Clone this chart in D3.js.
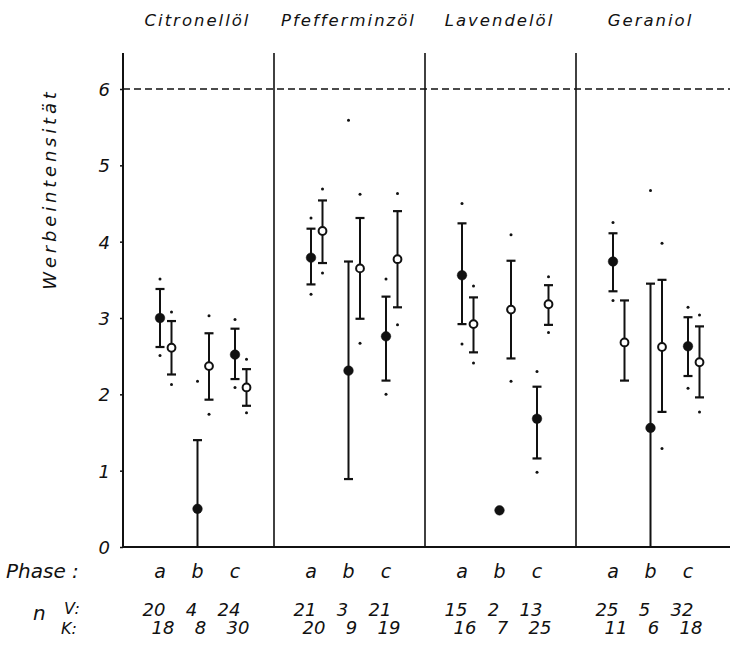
<!DOCTYPE html>
<html>
<head>
<meta charset="utf-8">
<script src="https://cdn.jsdelivr.net/npm/d3@7"></script>
<style>
  body { margin: 0; background: #fff; }
  text { font-family: "DejaVu Sans", sans-serif; font-style: italic; fill: #111; }
</style>
</head>
<body>
<div id="chart"></div>
<script>
// oils and phases
const oils = ["Citronellöl", "Pfefferminzöl", "Lavendelöl", "Geraniol"];
const phases = ["a", "b", "c"];

// V (filled) per oil x phase: mean, bar top/bottom, single extreme dots
const vMean  = [3.00, 0.50, 2.52, 3.79, 2.31, 2.76, 3.56, 0.48, 1.68, 3.74, 1.56, 2.63];
const vHi    = [3.38, 1.40, 2.86, 4.17, 3.74, 3.28, 4.24, null, 2.10, 4.11, 3.45, 3.01];
const vLo    = [2.62, 0.00, 2.20, 3.44, 0.89, 2.18, 2.92, null, 1.16, 3.35, 0.00, 2.24];
const vDotHi = [3.51, 2.17, 2.98, 4.31, 5.59, 3.51, 4.50, null, 2.30, 4.25, 4.67, 3.14];
const vDotLo = [2.51, null, 2.09, 3.31, null, 2.00, 2.66, null, 0.98, 3.23, null, 2.08];

// K (open)
const kMean  = [2.61, 2.37, 2.09, 4.14, 3.65, 3.77, 2.92, 3.11, 3.18, 2.68, 2.62, 2.42];
const kHi    = [2.96, 2.80, 2.33, 4.54, 4.31, 4.40, 3.27, 3.75, 3.43, 3.23, 3.50, 2.89];
const kLo    = [2.26, 1.93, 1.85, 3.72, 2.99, 3.14, 2.55, 2.47, 2.91, 2.18, 1.77, 1.96];
const kDotHi = [3.08, 3.03, 2.46, 4.69, 4.62, 4.63, 3.42, 4.09, 3.54, null, 3.98, 3.04];
const kDotLo = [2.13, 1.74, 1.76, 3.59, 2.67, 2.91, 2.41, 2.17, 2.81, null, 1.29, 1.77];

// sample sizes
const nV = [20, 4, 24, 21, 3, 21, 15, 2, 13, 25, 5, 32];
const nK = [18, 8, 30, 20, 9, 19, 16, 7, 25, 11, 6, 18];

const yTicks = [0, 1, 2, 3, 4, 5, 6];
const refLine = 6;

const W = 730, H = 646;
const svg = d3.select("#chart").append("svg")
  .attr("width", W).attr("height", H);

const y = d3.scaleLinear().domain([0, 6]).range([547, 89]);
const panel = d3.scaleBand().domain(oils).range([123, 727]);
const phaseX = d3.scalePoint().domain(phases).range([37, 112]);
const openOffset = 11.5;

const cells = [];
oils.forEach((o, i) => phases.forEach((p, j) => cells.push({ oil: o, phase: p, k: i * 3 + j })));
const cx = d => panel(d.oil) + phaseX(d.phase);

// y axis
const yAxis = d3.axisLeft(y).tickValues(yTicks).tickSize(3).tickFormat(d3.format("d"));
const ga = svg.append("g").attr("transform", "translate(123,0)").call(yAxis);
ga.select(".domain").remove();
ga.selectAll("line").attr("stroke", "#111").attr("stroke-width", 1.5);
ga.selectAll("text").attr("x", -13).attr("dy", "0.36em")
  .style("font-size", "18px");

svg.append("line").attr("x1", 123).attr("x2", 123).attr("y1", 53).attr("y2", y(0))
  .attr("stroke", "#111").attr("stroke-width", 2);

// panel dividers
svg.selectAll(".div").data(oils.slice(1)).enter().append("line")
  .attr("x1", d => panel(d)).attr("x2", d => panel(d))
  .attr("y1", 53).attr("y2", y(0))
  .attr("stroke", "#111").attr("stroke-width", 1.6);

// baseline and dashed reference line
svg.append("line").attr("x1", 123).attr("x2", 730).attr("y1", y(0)).attr("y2", y(0))
  .attr("stroke", "#111").attr("stroke-width", 2);
svg.append("line").attr("x1", 123).attr("x2", 730).attr("y1", y(refLine)).attr("y2", y(refLine))
  .attr("stroke", "#111").attr("stroke-width", 1.4).attr("stroke-dasharray", "7,4");

// titles
svg.selectAll(".title").data(oils).enter().append("text")
  .attr("x", d => panel(d) + phaseX("b")).attr("y", 26)
  .attr("text-anchor", "middle")
  .style("font-size", "16.5px").style("letter-spacing", "2px")
  .text(d => d);

// y label
svg.append("text").attr("transform", "translate(56,189) rotate(-90)")
  .attr("text-anchor", "middle")
  .style("font-size", "18px").style("letter-spacing", "3.8px")
  .text("Werbeintensität");

// draw one series
function series(mean, hi, lo, dHi, dLo, dx, filled) {
  const g = svg.append("g");
  const bars = cells.filter(d => hi[d.k] !== null);
  g.selectAll(".bar").data(bars).enter().append("line")
    .attr("x1", d => cx(d) + dx).attr("x2", d => cx(d) + dx)
    .attr("y1", d => y(hi[d.k])).attr("y2", d => y(lo[d.k]))
    .attr("stroke", "#111").attr("stroke-width", 2);
  const caps = [];
  bars.forEach(d => {
    caps.push({ d: d, v: hi[d.k] });
    if (lo[d.k] > 0) caps.push({ d: d, v: lo[d.k] });
  });
  g.selectAll(".cap").data(caps).enter().append("line")
    .attr("x1", c => cx(c.d) + dx - 4.5).attr("x2", c => cx(c.d) + dx + 4.5)
    .attr("y1", c => y(c.v)).attr("y2", c => y(c.v))
    .attr("stroke", "#111").attr("stroke-width", 2.2);
  const dots = [];
  cells.forEach(d => {
    if (dHi[d.k] !== null) dots.push({ d: d, v: dHi[d.k] });
    if (dLo[d.k] !== null) dots.push({ d: d, v: dLo[d.k] });
  });
  g.selectAll(".dot").data(dots).enter().append("circle")
    .attr("cx", c => cx(c.d) + dx).attr("cy", c => y(c.v)).attr("r", 1.5)
    .attr("fill", "#111");
  g.selectAll(".mean").data(cells).enter().append("circle")
    .attr("cx", d => cx(d) + dx).attr("cy", d => y(mean[d.k]))
    .attr("r", filled ? 4.8 : 3.9)
    .attr("fill", filled ? "#111" : "#fff")
    .attr("stroke", "#111").attr("stroke-width", filled ? 0.5 : 2);
}
series(vMean, vHi, vLo, vDotHi, vDotLo, 0, true);
series(kMean, kHi, kLo, kDotHi, kDotLo, openOffset, false);

// bottom labels
svg.append("text").attr("x", 6).attr("y", 578)
  .style("font-size", "20px").text("Phase :");
svg.selectAll(".ph").data(cells).enter().append("text")
  .attr("x", d => cx(d)).attr("y", 578).attr("text-anchor", "middle")
  .style("font-size", "19px").text(d => d.phase);

svg.append("text").attr("x", 33).attr("y", 620).style("font-size", "20px").text("n");
svg.append("text").attr("x", 64).attr("y", 614).style("font-size", "16px").text("V:");
svg.append("text").attr("x", 61).attr("y", 634).style("font-size", "16px").text("K:");

svg.selectAll(".nv").data(cells).enter().append("text")
  .attr("x", d => cx(d) - 6).attr("y", 616).attr("text-anchor", "middle")
  .style("font-size", "18px").text(d => nV[d.k]);
svg.selectAll(".nk").data(cells).enter().append("text")
  .attr("x", d => cx(d) + 3).attr("y", 634).attr("text-anchor", "middle")
  .style("font-size", "18px").text(d => nK[d.k]);
</script>
</body>
</html>
